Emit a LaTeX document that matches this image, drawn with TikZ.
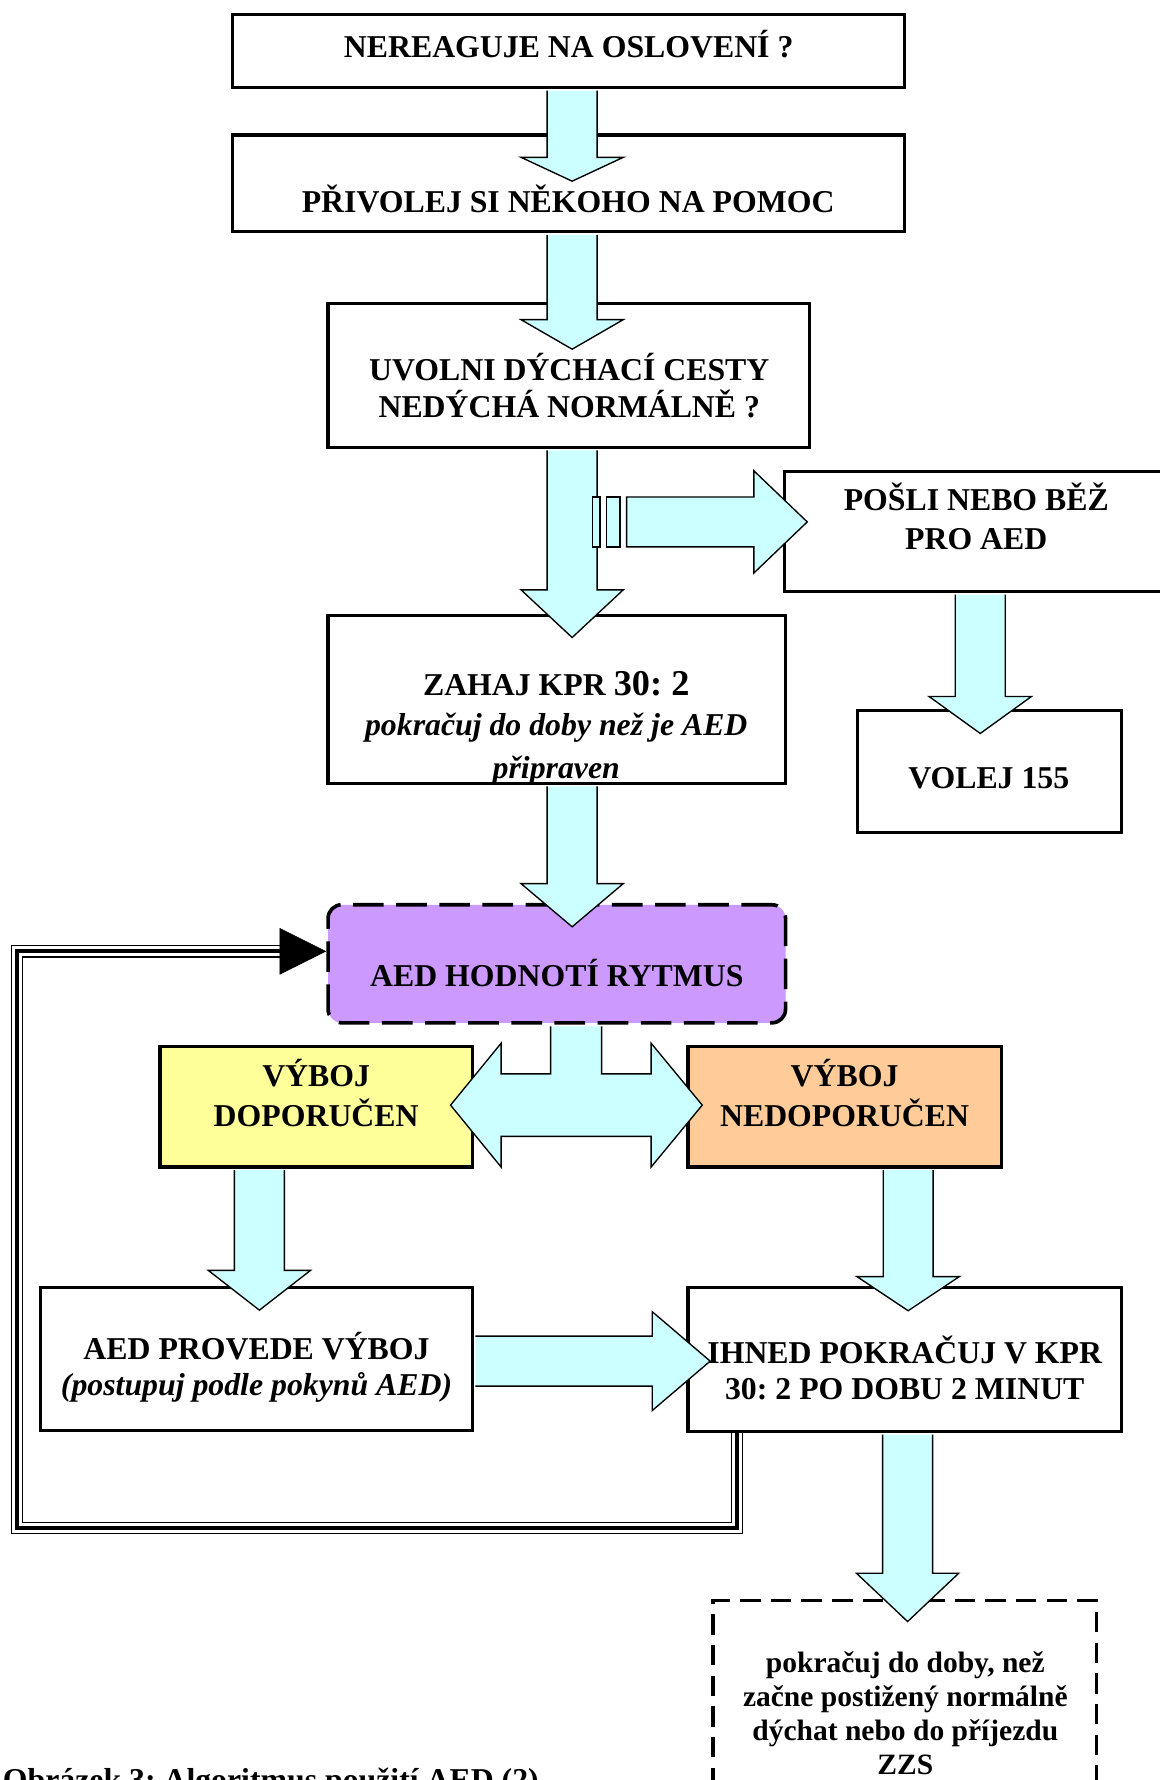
\documentclass[tikz,border=0pt]{standalone}
\usepackage{fontspec}
\setmainfont{Liberation Serif}
\usetikzlibrary{calc, arrows.meta}
\frenchspacing

\definecolor{arrowcyan}{HTML}{CCFFFF}
\definecolor{aedpurple}{HTML}{CC99FF}
\definecolor{shockyellow}{HTML}{FFFF99}
\definecolor{noshockorange}{HTML}{FFCC99}

% block arrow pointing down: source, target, axis x, tip depth, head length
\newcommand{\downblock}[5]{%
  \draw[blockarrow] let \p1=(#1.south), \p2=(#2.north) in
    (#3pt-22pt,\y1-1.4pt) -- (#3pt-22pt,\y2-#4pt+#5pt) -- (#3pt-45pt,\y2-#4pt+#5pt)
    -- (#3pt,\y2-#4pt) -- (#3pt+45pt,\y2-#4pt+#5pt) -- (#3pt+22pt,\y2-#4pt+#5pt)
    -- (#3pt+22pt,\y1-1.4pt);}

% block arrow pointing right: source, target, axis y, tip depth, head length, head half height
\newcommand{\rightblock}[6]{%
  \draw[blockarrow] let \p1=(#1.east), \p2=(#2.west) in
    (\x1+1.4pt,-#3pt+22pt) -- (\x2+#4pt-#5pt,-#3pt+22pt) -- (\x2+#4pt-#5pt,-#3pt+#6pt)
    -- (\x2+#4pt,-#3pt) -- (\x2+#4pt-#5pt,-#3pt-#6pt) -- (\x2+#4pt-#5pt,-#3pt-22pt)
    -- (\x1+1.4pt,-#3pt-22pt);}

\begin{document}
\begin{tikzpicture}[
    x=1pt, y=-1pt,
    box/.style={draw, line width=2.8pt, inner sep=0pt},
    dashbox/.style={draw, line width=3.2pt, inner sep=0pt},
    txt/.style={font=\fontsize{28}{33}\selectfont\bfseries, align=center, anchor=base},
    blockarrow/.style={draw, fill=arrowcyan, line width=1.2pt}
]
\useasboundingbox (0,0) rectangle (1021,1568);

% boxes
\node[box, minimum width=592pt, minimum height=64pt] (start) at (501,45) {};
\node[box, minimum width=592pt, minimum height=85pt] (help) at (501,161.5) {};
\node[box, minimum width=424pt, minimum height=127pt] (airway) at (501,330.5) {};
\node[box, minimum width=350pt, minimum height=106pt] (fetch) at (866,468) {};
\node[box, minimum width=233pt, minimum height=107pt] (call) at (871.5,679.5) {};
\node[box, minimum width=403pt, minimum height=148pt] (cpr) at (490.5,616) {};
\node[dashbox, rounded corners=12pt, fill=aedpurple, dash pattern=on 27pt off 11pt,
      minimum width=403pt, minimum height=104pt] (analyse) at (490.5,849) {};
\node[box, fill=shockyellow, minimum width=275pt, minimum height=106pt] (shockyes) at (278.5,975) {};
\node[box, fill=noshockorange, minimum width=276pt, minimum height=106pt] (shockno) at (744,975) {};
\node[box, minimum width=380pt, minimum height=126pt] (shock) at (226,1197) {};
\node[box, minimum width=382pt, minimum height=127pt] (resume) at (797,1197.5) {};
\node[dashbox, dash pattern=on 18pt off 9pt, minimum width=338pt, minimum height=230pt] (wait) at (797,1525) {};

% texts (base = baseline of the last line)
\node[txt] (starttext) at (501,51) {NEREAGUJE NA OSLOVENÍ ?};
\node[txt] (helptext) at (500.5,187) {PŘIVOLEJ SI NĚKOHO NA POMOC};
\node[txt] (airwaytext) at (501.5,368) {UVOLNI DÝCHACÍ CESTY\\NEDÝCHÁ NORMÁLNĚ ?};
\node[txt] (fetchtext) at (860,484) {POŠLI NEBO BĚŽ\\[1pt]PRO AED};
\node[txt] (calltext) at (871,695) {VOLEJ 155};
\begin{scope}
  \clip ($(cpr.south west)+(1.4,-1.4)$) rectangle (cpr.north east);
  \node[txt] (cprtext) at (490,686) {ZAHAJ KPR {\fontsize{32}{33}\selectfont 30: 2}\\[2pt]
    \textit{pokračuj do doby než je AED}\\[5pt]\textit{připraven}};
\end{scope}
\node[txt] (analysetext) at (490.5,869) {AED HODNOTÍ RYTMUS};
\node[txt] (shockyestext) at (278.5,992) {VÝBOJ\\[2pt]DOPORUČEN};
\node[txt] (shocknotext) at (744,992) {VÝBOJ\\[2pt]NEDOPORUČEN};
\node[txt] (shocktext) at (226,1229) {AED PROVEDE VÝBOJ\\[-2pt]\textit{(postupuj podle pokynů AED)}};
\node[txt] (resumetext) at (797,1233) {IHNED POKRAČUJ V KPR\\[-1pt]30: 2 PO DOBU 2 MINUT};
\node[txt, font=\fontsize{26}{30}\selectfont\bfseries] (waittext) at (797.5,1563)
    {pokračuj do doby, než\\začne postižený normálně\\dýchat nebo do příjezdu\\ZZS};
\node[txt, anchor=base west] (caption) at (-1,1577) {Obrázek 3: Algoritmus použití AED (2)};

% loop back to the rhythm analysis
\coordinate (loopR) at (649,1346);
\coordinate (loopL) at (15,1346);
\coordinate (loopT) at (15,838);
\coordinate (loopA) at (250,838);
\foreach \w/\c in {11pt/black, 8.6pt/white, 3.4pt/black}
  \draw[line width=\w, draw=\c] (resume.south -| loopR) -- (loopR) -- (loopL) -- (loopT) -- (loopA);
\draw[line width=0.4pt, -{Triangle[length=41pt, width=41pt]}] (loopA) -- (analyse.west |- loopA);

% arrows
\downblock{start}{help}{504}{42}{21}
\downblock{help}{airway}{504}{42}{26}
\downblock{airway}{cpr}{504}{21}{42}
\downblock{fetch}{call}{863.5}{21.5}{32.5}
\downblock{cpr}{analyse}{504}{21}{38}
\downblock{shockyes}{shock}{228.5}{21.5}{35}
\downblock{shockno}{resume}{800}{22}{30}
\downblock{resume}{wait}{799.5}{20}{42.5}
\rightblock{shock}{resume}{1199}{21}{51}{43.5}

% striped arrow to the AED errand
\coordinate (branch) at (522,459.75);
\draw[blockarrow] ($(branch)+(0,-22)$) rectangle ($(branch)+(6.5,22)$);
\draw[blockarrow] ($(branch)+(12,-22)$) rectangle ($(branch)+(24,22)$);
\draw[blockarrow] let \p1=(branch), \p2=(fetch.west) in
  (\x1+30pt,\y1+22pt) -- (\x2-25.5pt,\y1+22pt) -- (\x2-25.5pt,\y1+45pt) -- (\x2+21.5pt,\y1)
  -- (\x2-25.5pt,\y1-45pt) -- (\x2-25.5pt,\y1-22pt) -- (\x1+30pt,\y1-22pt) -- cycle;

% two-way arrow from the analysis
\draw[blockarrow] let \p1=(analyse.south), \p2=(shockyes.east), \p3=(shockno.west) in
  (485pt,\y1-1.6pt) -- (485pt,-946pt) -- (\x2+24pt,-946pt) -- (\x2+24pt,-919pt)
  -- (\x2-20.5pt,-973.5pt) -- (\x2+24pt,-1028pt) -- (\x2+24pt,-1001pt) -- (\x3-31pt,-1001pt)
  -- (\x3-31pt,-1028pt) -- (\x3+14pt,-973.5pt) -- (\x3-31pt,-919pt) -- (\x3-31pt,-946pt)
  -- (530pt,-946pt) -- (530pt,\y1-1.6pt);

\end{tikzpicture}
\end{document}
